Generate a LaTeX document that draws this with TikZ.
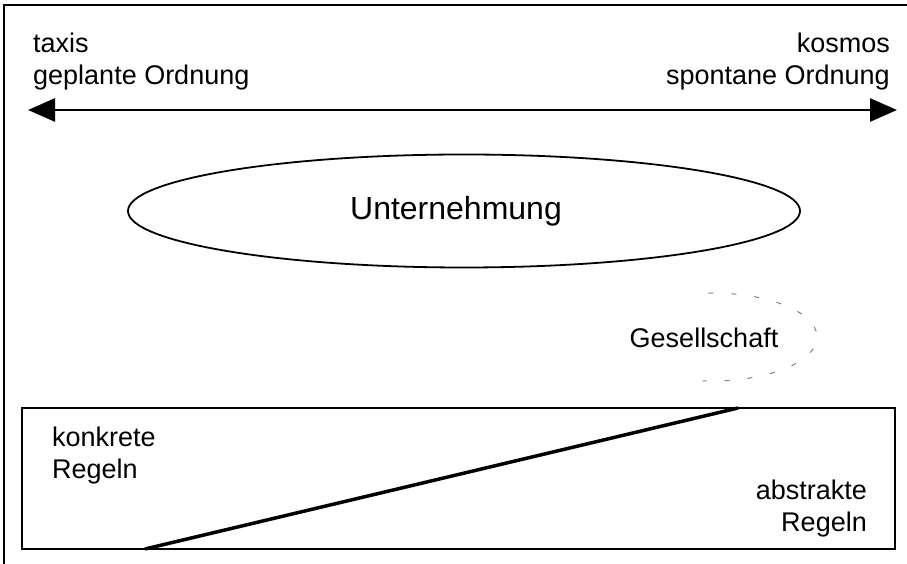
\documentclass[tikz,border=0pt]{standalone}
\usepackage{fontspec}
\setmainfont{Liberation Sans}
\usetikzlibrary{arrows.meta,shapes.geometric}

\begin{document}
\begin{tikzpicture}[x=1pt, y=1pt,
		txt/.style={font=\fontsize{27}{32}\selectfont, inner sep=0pt},
		bigtxt/.style={font=\fontsize{32}{38}\selectfont, inner sep=0pt}]
		\useasboundingbox (0, 0) rectangle (907, 564);
		% frame
		\draw[line width=2pt] (4, 0) -- (4, 559) -- (907, 559);
		% taxis - kosmos
		\node[txt, anchor=north west, align=left] (taxis) at (33, 531) {taxis\\geplante Ordnung};
		\node[txt, anchor=north east, align=right] (kosmos) at (890, 531) {kosmos\\spontane Ordnung};
		\coordinate (links) at (28, 454);
		\coordinate (rechts) at (897, 454);
		\draw[line width=2.8pt, {Triangle[length=27pt, width=23pt]}-{Triangle[length=27pt, width=23pt]}] (links) -- (rechts);
		% Unternehmung
		\node[draw, line width=1.8pt, ellipse, minimum width=672pt, minimum height=113pt] (firma) at (464, 353) {};
		\node[bigtxt] (unternehmung) at (456, 353) {Unternehmung};
		% Gesellschaft
		\node[txt] (gesellschaft) at (704, 226) {Gesellschaft};
		\draw[gray, line width=1pt, dash pattern=on 5pt off 18pt] (712, 227) ++(92:105 and 44) arc[start angle=92, end angle=-95, x radius=105, y radius=44];
		% Regeln
		\node[draw, line width=2pt, inner sep=0pt, minimum width=873pt, minimum height=141pt] (regeln) at (458.5, 85.5) {};
		\coordinate (unten) at (145, 15);
		\coordinate (oben) at (738, 156);
		\draw[line width=3.5pt] (unten) -- (oben);
		\node[txt, anchor=north west, align=left] (konkret) at (52, 137) {konkrete\\Regeln};
		\node[txt, anchor=north east, align=right] (abstrakt) at (867, 84) {abstrakte\\Regeln};
	\end{tikzpicture}
\end{document}
